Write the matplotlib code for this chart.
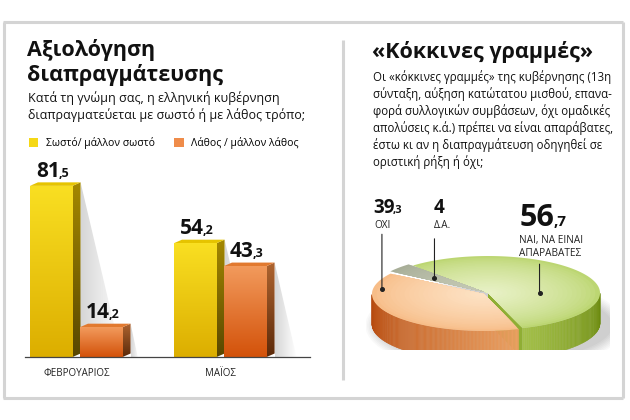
import matplotlib.pyplot as plt
import numpy as np
from matplotlib.patches import Polygon, Patch, Ellipse
from matplotlib.lines import Line2D
from matplotlib.colors import to_rgb
from matplotlib.transforms import IdentityTransform

plt.rcParams['font.family'] = ['Open Sans', 'DejaVu Sans']

# ---- data ----
months = ['ΦΕΒΡΟΥΑΡΙΟΣ', 'ΜΑΪΟΣ']
correct = [81.5, 54.2]
wrong = [14.2, 43.3]
series_names = ['Σωστό/ μάλλον σωστό', 'Λάθος / μάλλον λάθος']

pie_names = ['ΝΑΙ, ΝΑ ΕΙΝΑΙ\nΑΠΑΡΑΒΑΤΕΣ', 'Δ.Α.', 'ΟΧΙ']
pie_values = [56.7, 4, 39.3]

W, H = 630, 420
fig = plt.figure(figsize=(6.3, 4.2), dpi=100)
fig.patch.set_facecolor('white')
renderer = fig.canvas.get_renderer()


def fx(x):
    return x / W


def fy(y):
    return 1 - y / H


def grad_img(c1, c2, n=64, horizontal=False):
    a = np.linspace(0, 1, n)[:, None, None]
    img = np.array(to_rgb(c1)) * (1 - a) + np.array(to_rgb(c2)) * a
    if horizontal:
        img = img.transpose(1, 0, 2)
    return img


def face(ax, pts, c1, c2, horizontal=False, z=2):
    pts = np.array(pts)
    poly = Polygon(pts, closed=True, facecolor='none', edgecolor='none')
    ax.add_patch(poly)
    im = ax.imshow(grad_img(c1, c2, horizontal=horizontal),
                   extent=[pts[:, 0].min(), pts[:, 0].max(), pts[:, 1].min(), pts[:, 1].max()],
                   aspect='auto', zorder=z, interpolation='bilinear')
    im.set_clip_path(poly)


def num_label(x, y, value, big, small):
    # x, y in pixels from top-left, y = baseline
    s = f'{value:g}'.replace('.', ',')
    ip, _, dp = s.partition(',')
    t = fig.text(x, H - y, ip, fontsize=big, fontweight='bold', va='baseline',
                 ha='left', transform=IdentityTransform(), color='#111111', zorder=10)
    if dp:
        w = t.get_window_extent(renderer).width
        fig.text(x + w - 1.5, H - y, ',' + dp, fontsize=small, fontweight='bold',
                 va='baseline', ha='left', transform=IdentityTransform(), color='#111111', zorder=10)


# ---- frame ----
fc = '#d4d4d4'
for (x0, y0, x1, y1) in [(3, 22, 623, 22), (3, 398, 623, 398), (4, 22, 4, 398),
                         (623, 22, 623, 398), (343, 40, 343, 380)]:
    fig.add_artist(Line2D([fx(x0), fx(x1)], [fy(y0), fy(y1)], color=fc, lw=2.2,
                          solid_capstyle='butt'))

# ---- left texts ----
fig.text(fx(27), fy(50), 'Αξιολόγηση', fontsize=15.5, fontweight='bold', va='center', color='#111111')
fig.text(fx(27), fy(75), 'διαπραγμάτευσης', fontsize=15.5, fontweight='bold', va='center', color='#111111')
fig.text(fx(28), fy(98), 'Κατά τη γνώμη σας, η ελληνική κυβέρνηση', fontsize=9.0, va='center', color='#111111')
fig.text(fx(28), fy(115), 'διαπραγματεύεται με σωστό ή με λάθος τρόπο;', fontsize=9.0, va='center', color='#111111')

fig.legend(handles=[Patch(facecolor='#f5d816'), Patch(facecolor='#ef8c4a')], labels=series_names,
           loc='center left', bbox_to_anchor=(fx(29), fy(143)), ncol=2, frameon=False, fontsize=7.5,
           handlelength=0.9, handleheight=0.9, handletextpad=0.7, columnspacing=1.9,
           borderpad=0, borderaxespad=0)

# ---- bar chart ----
ax = fig.add_axes([fx(25), fy(357), 285 / W, 210 / H])
px_x, px_y = 144.0, 2.1
dx, dy = 8 / px_x, 3.5 / px_y
bw = 0.296
offs = [-0.1736, 0.1736]
styles = [('#f9df22', '#dcae00', '#a48800', '#594700', '#e6c400'),
          ('#f29a5c', '#d3520a', '#ae6430', '#5c2a0a', '#e27a30')]
xs = np.arange(len(months))
label_pts = []
for s, vals in enumerate([correct, wrong]):
    ft, fb, st, sb, tp = styles[s]
    for i, v in enumerate(vals):
        x0 = xs[i] + offs[s] - bw / 2
        x1 = x0 + bw
        sl = 0.24 * v * px_y / px_x
        face(ax, [(x1 + dx, v + dy), (x1 + dx + sl, 0), (x1 + dx, 0)], '#d6d6d6', '#ffffff',
             horizontal=True, z=1)
        face(ax, [(x0, 0), (x1, 0), (x1, v), (x0, v)], ft, fb, z=3 + s)
        face(ax, [(x1, 0), (x1 + dx, dy), (x1 + dx, v + dy), (x1, v)], st, sb, z=3 + s)
        face(ax, [(x0, v), (x1, v), (x1 + dx, v + dy), (x0 + dx, v + dy)], tp, tp, z=3 + s)
        label_pts.append((x0, v))

ax.set_xlim(-0.356, 1.623)
ax.set_ylim(0, 100)
for sp in ['top', 'left', 'right']:
    ax.spines[sp].set_visible(False)
ax.spines['bottom'].set_color('#444444')
ax.spines['bottom'].set_linewidth(0.9)
ax.spines['bottom'].set_zorder(6)
ax.set_yticks([])
ax.set_xticks(xs)
ax.set_xticklabels(months, fontsize=7.0, color='#222222')
ax.tick_params(axis='x', length=0, pad=8)
ax.set_facecolor('none')

for (x0, v) in label_pts:
    xd, yd = ax.transData.transform((x0, v))
    num_label(xd + 6, H - yd - 9, v, 15, 9)

# ---- right texts ----
fig.text(fx(372), fy(52), '«Κόκκινες γραμμές»', fontsize=15.5, fontweight='bold', va='center', color='#111111')
body = ['Οι «κόκκινες γραμμές» της κυβέρνησης (13η',
        'σύνταξη, αύξηση κατώτατου μισθού, επανα-',
        'φορά συλλογικών συμβάσεων, όχι ομαδικές',
        'απολύσεις κ.ά.) πρέπει να είναι απαράβατες,',
        'έστω κι αν η διαπραγμάτευση οδηγηθεί σε',
        'οριστική ρήξη ή όχι;']
for j, line in enumerate(body):
    fig.text(fx(373), fy(77 + 17 * j), line, fontsize=8.3, va='center', color='#111111')

# ---- 3D pie ----
ax2 = fig.add_axes([fx(366), fy(350), 244 / W, 110 / H])
ax2.set_xlim(-1.089, 1.089)
ax2.set_ylim(-0.509, 0.473)
ax2.axis('off')
k, d = 0.33, 0.27
start = -72.0
bounds = start + 360 * np.concatenate([[0], np.cumsum(pie_values)]) / 100
pie_styles = [('#e8f1c6', '#bcd672', '#a4c04a', '#6c8a10'),
              ('#c6cab6', '#a8ae98', '#8c9078', '#8c9078'),
              ('#fde2c4', '#f7bd88', '#b4460a', '#eaa062')]
explode = [0.0, 0.05, 0.045]

# soft shadow
for j in range(8):
    ax2.add_patch(Ellipse((0.06, -d - 0.02), 2.1 + 0.03 * j, 2 * k + 0.03 * j,
                          facecolor='#000000', alpha=0.022, edgecolor='none', zorder=0))


def ell(th, r=1.0, off=(0, 0), down=0.0):
    t = np.radians(th)
    return np.column_stack([off[0] + r * np.cos(t), off[1] + k * r * np.sin(t) - down])


offsets = []
for i in range(len(pie_values)):
    mid = np.radians((bounds[i] + bounds[i + 1]) / 2)
    offsets.append((explode[i] * np.cos(mid), explode[i] * k * np.sin(mid)))

z = 1
for i in range(len(pie_values)):
    a0, a1 = bounds[i], bounds[i + 1]
    tc, te, wa, wb = pie_styles[i]
    off = offsets[i]
    # radial face at start angle (visible for the green slice)
    if i == 0:
        p = ell(np.array([a0]), off=off)[0]
        ax2.add_patch(Polygon([(off[0], off[1]), tuple(p), (p[0], p[1] - d), (off[0], off[1] - d)],
                              facecolor='#8fae34', edgecolor='none', zorder=z))
    # side wall (front part only)
    ths = np.linspace(a0, a1, 200)
    front = ths[np.sin(np.radians(ths)) <= 0]
    if len(front) > 1:
        c1, c2 = np.array(to_rgb(wa)), np.array(to_rgb(wb))
        for j in range(len(front) - 1):
            f = j / (len(front) - 2)
            col = c1 * (1 - f) + c2 * f
            seg = front[j:j + 2]
            top = ell(seg, off=off)
            bot = ell(seg[::-1], off=off, down=d)
            ax2.add_patch(Polygon(np.vstack([top, bot]), facecolor=col, edgecolor=col,
                                  lw=0.3, zorder=z))
    # top with radial gradient
    c1, c2 = np.array(to_rgb(te)), np.array(to_rgb(tc))
    ths = np.linspace(a0, a1, 120)
    for j, r in enumerate(np.linspace(1, 0.05, 24)):
        f = (j / 23) ** 0.7
        col = c1 * (1 - f) + c2 * f
        pts = np.vstack([[off], ell(ths, r=r, off=off)])
        ax2.add_patch(Polygon(pts, facecolor=col, edgecolor='none', zorder=z + 1))
    z += 2

# leader lines and dots
anchors = [(0.35, 0.46, 29), (0.5, 0.58, 39), (0.18, 0.92, 55)]
for i, (frac, r, L) in enumerate(anchors):
    th = bounds[i] + frac * (bounds[i + 1] - bounds[i])
    p = ell(np.array([th]), r=r, off=offsets[i])[0]
    ax2.annotate('', xy=tuple(p), xytext=(0, L), textcoords='offset pixels',
                 arrowprops=dict(arrowstyle='-', lw=0.8, color='#222222',
                                 shrinkA=0, shrinkB=0), zorder=20)
    ax2.plot([p[0]], [p[1]], 'o', ms=2.6, color='#222222', zorder=21)

# pie labels
num_label(520, 226, pie_values[0], 22, 11)
fig.text(fx(519), fy(240), 'ΝΑΙ, ΝΑ ΕΙΝΑΙ', fontsize=7.2, va='center', color='#222222')
fig.text(fx(519), fy(254), 'ΑΠΑΡΑΒΑΤΕΣ', fontsize=7.2, va='center', color='#222222')
num_label(434, 213, pie_values[1], 13.5, 8)
fig.text(fx(434), fy(225), pie_names[1], fontsize=7.2, va='center', color='#222222')
num_label(373, 213, pie_values[2], 13.5, 8)
fig.text(fx(374), fy(225), pie_names[2], fontsize=7.2, va='center', color='#222222')

fig.savefig('out.png', dpi=100)
